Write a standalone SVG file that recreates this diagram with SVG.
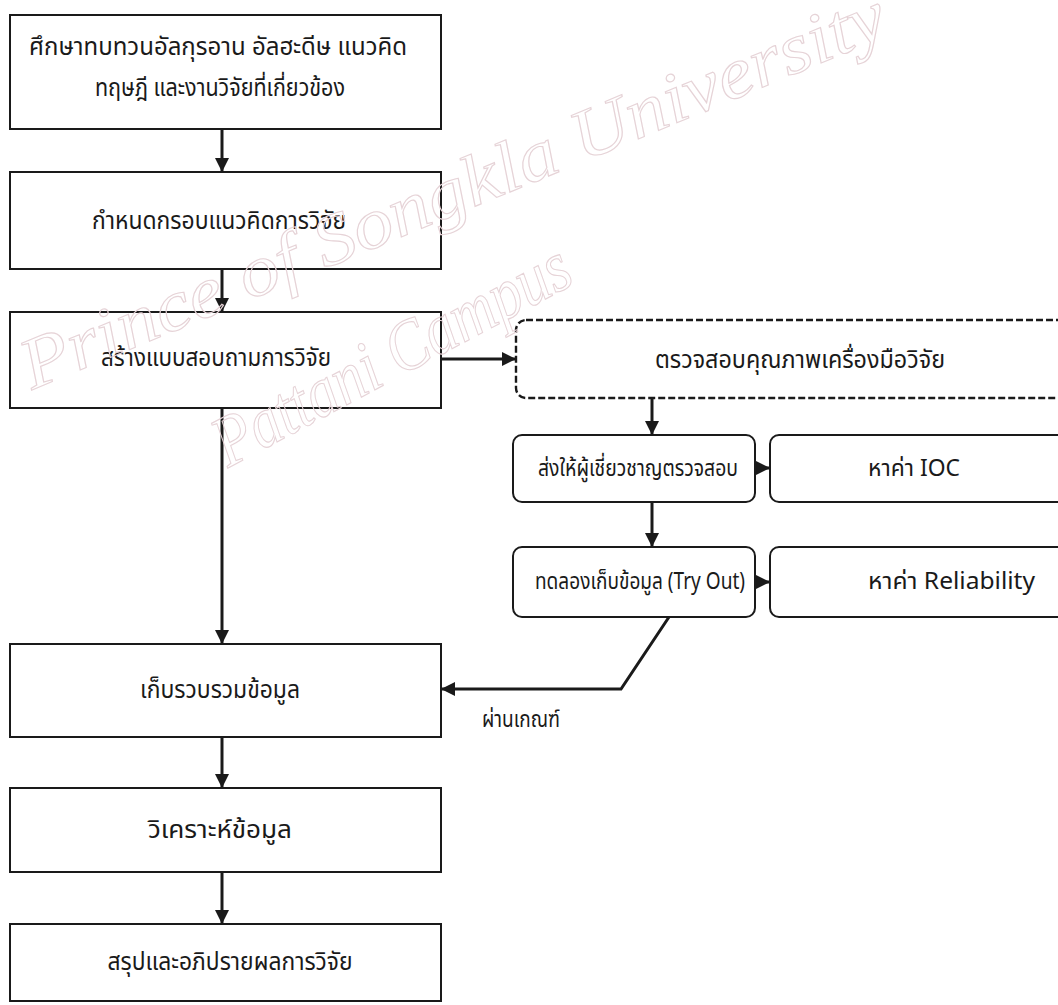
<svg xmlns="http://www.w3.org/2000/svg" width="1058" height="1005" viewBox="0 0 1058 1005">
<style>
.box{fill:#fff;stroke:#1a1a1a;stroke-width:2}
.dash{fill:none;stroke:#1a1a1a;stroke-width:2.4;stroke-dasharray:7 3}
.t{font-family:"Noto Sans Thai","Noto Sans Thai Looped",Tahoma,"Noto Sans","DejaVu Sans",sans-serif;font-size:24px;fill:#1a1a1a;text-anchor:middle}
.s{font-size:23px}
.ts{text-anchor:start}
.c{fill:none;stroke:#1a1a1a;stroke-width:3}
.wm{font-family:"Liberation Serif",serif;font-style:italic;font-size:72px;fill:none;stroke:#e6d3d7;stroke-width:1.1}
</style>
<defs>
<marker id="ah" markerWidth="14" markerHeight="14" refX="13" refY="7" orient="auto" markerUnits="userSpaceOnUse" viewBox="0 0 14 14">
<path d="M0,0 L14,7 L0,14 z" fill="#1a1a1a"/>
</marker>
</defs>
<rect width="1058" height="1005" fill="#fff"/>
<g id="n1"><rect class="box" x="10" y="15" width="431" height="114"/>
<text class="t" x="218" y="55" textLength="378" lengthAdjust="spacingAndGlyphs">ศึกษาทบทวนอัลกุรอาน อัลฮะดีษ แนวคิด</text>
<text class="t" x="220" y="96" textLength="250" lengthAdjust="spacingAndGlyphs">ทฤษฎี และงานวิจัยที่เกี่ยวข้อง</text></g>
<g id="n2"><rect class="box" x="10" y="172" width="431" height="97"/>
<text class="t" x="219" y="229" textLength="254" lengthAdjust="spacingAndGlyphs">กำหนดกรอบแนวคิดการวิจัย</text></g>
<g id="n3"><rect class="box" x="10" y="312" width="431" height="96"/>
<text class="t" x="216" y="366" textLength="230" lengthAdjust="spacingAndGlyphs">สร้างแบบสอบถามการวิจัย</text></g>
<g id="n4"><rect class="dash" x="516" y="320" width="560" height="78" rx="10"/>
<text class="t" x="800" y="368" textLength="290" lengthAdjust="spacingAndGlyphs">ตรวจสอบคุณภาพเครื่องมือวิจัย</text></g>
<g id="n5"><rect class="box" x="513" y="435" width="242" height="67" rx="9"/>
<text class="t s" x="638" y="476" textLength="200" lengthAdjust="spacingAndGlyphs">ส่งให้ผู้เชี่ยวชาญตรวจสอบ</text></g>
<g id="n6"><rect class="box" x="770" y="435" width="300" height="67" rx="9"/>
<text class="t s ts" x="868" y="476" textLength="92" lengthAdjust="spacingAndGlyphs">หาค่า IOC</text></g>
<g id="n7"><rect class="box" x="513" y="547" width="242" height="70" rx="9"/>
<text class="t s" x="640" y="589" textLength="210" lengthAdjust="spacingAndGlyphs">ทดลองเก็บข้อมูล (Try Out)</text></g>
<g id="n8"><rect class="box" x="770" y="547" width="300" height="70" rx="9"/>
<text class="t s ts" x="868" y="589" textLength="167" lengthAdjust="spacingAndGlyphs">หาค่า Reliability</text></g>
<g id="n9"><rect class="box" x="10" y="644" width="431" height="93"/>
<text class="t" x="220" y="698" textLength="160" lengthAdjust="spacingAndGlyphs">เก็บรวบรวมข้อมูล</text></g>
<g id="n10"><rect class="box" x="10" y="788" width="431" height="84"/>
<text class="t" x="220" y="838" textLength="144" lengthAdjust="spacingAndGlyphs">วิเคราะห์ข้อมูล</text></g>
<g id="n11"><rect class="box" x="10" y="924" width="431" height="77"/>
<text class="t" x="230" y="970" textLength="245" lengthAdjust="spacingAndGlyphs">สรุปและอภิปรายผลการวิจัย</text></g>
<g id="connectors">
<line class="c" x1="222" y1="129" x2="222" y2="171" marker-end="url(#ah)"/>
<line class="c" x1="222" y1="269" x2="222" y2="311" marker-end="url(#ah)"/>
<line class="c" x1="222" y1="408" x2="222" y2="643" marker-end="url(#ah)"/>
<line class="c" x1="222" y1="737" x2="222" y2="787" marker-end="url(#ah)"/>
<line class="c" x1="222" y1="872" x2="222" y2="923" marker-end="url(#ah)"/>
<line class="c" x1="441" y1="359" x2="515" y2="359" marker-end="url(#ah)"/>
<line class="c" x1="652" y1="398" x2="652" y2="434" marker-end="url(#ah)"/>
<line class="c" x1="652" y1="502" x2="652" y2="546" marker-end="url(#ah)"/>
<line class="c" x1="755" y1="468" x2="769" y2="468" marker-end="url(#ah)"/>
<line class="c" x1="755" y1="582" x2="769" y2="582" marker-end="url(#ah)"/>
<polyline class="c" points="669,617 621,689 442,689" marker-end="url(#ah)"/>
<text class="t s ts" x="482" y="727" textLength="78" lengthAdjust="spacingAndGlyphs">ผ่านเกณฑ์</text>
</g>
<g id="watermark">
<text class="wm" transform="translate(32,390) rotate(-22.5)" textLength="930" lengthAdjust="spacingAndGlyphs">Prince of Songkla University</text>
<text class="wm" transform="translate(228,468) rotate(-28)" textLength="395" lengthAdjust="spacingAndGlyphs">Pattani Campus</text>
</g>
</svg>
